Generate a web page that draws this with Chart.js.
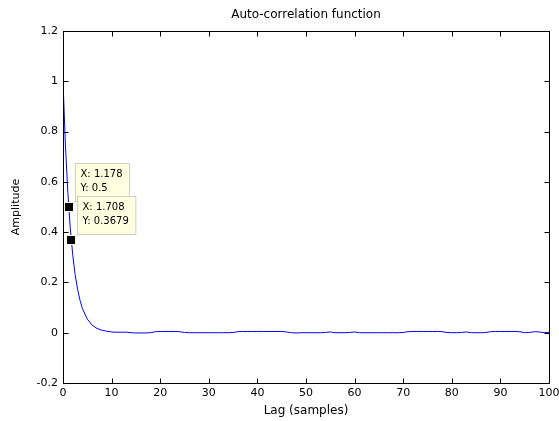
<!DOCTYPE html>
<html lang="en">
<head>
    <meta charset="UTF-8">
    <title>Auto-correlation function</title>
    <style>
        body {
            margin: 0;
            background: #fff;
        }
        #wrap {
            width: 559px;
            height: 421px;
        }
    </style>
    <script src="https://cdn.jsdelivr.net/npm/chart.js"></script>
</head>
<body>
    <div id="wrap">
        <canvas id="acfChart" width="559" height="421"></canvas>
    </div>
    <script>
        // lag values (samples) and auto-correlation
        const lags = [0, 0.5, 1, 1.5, 2, 2.5, 3, 3.5, 4, 5, 6, 7, 8, 9, 10,
            11, 12, 13, 14, 15, 16, 17, 18, 19, 20, 21, 22, 23, 24, 25, 26, 27, 28, 29, 30,
            31, 32, 33, 34, 35, 36, 37, 38, 39, 40, 41, 42, 43, 44, 45, 46, 47, 48, 49, 50,
            51, 52, 53, 54, 55, 56, 57, 58, 59, 60, 61, 62, 63, 64, 65, 66, 67, 68, 69, 70,
            71, 72, 73, 74, 75, 76, 77, 78, 79, 80, 81, 82, 83, 84, 85, 86, 87, 88, 89, 90,
            91, 92, 93, 94, 95, 96, 97, 98, 99, 100];
        const amplitude = [1.000, 0.746, 0.557, 0.416, 0.310, 0.231, 0.173, 0.129, 0.096, 0.054, 0.030, 0.017, 0.010, 0.006, 0.003,
            0.002, 0.002, 0.002, 0.000, -0.001, -0.001, -0.001, 0.000, 0.004, 0.005, 0.005, 0.005, 0.005, 0.004, 0.001, 0.000, 0.000, 0.000, 0.000, 0.000,
            0.000, 0.000, 0.000, 0.000, 0.001, 0.004, 0.005, 0.005, 0.005, 0.005, 0.005, 0.005, 0.005, 0.005, 0.005, 0.003, 0.000, -0.001, 0.000, 0.000,
            0.000, 0.000, 0.000, 0.001, 0.003, 0.000, 0.000, 0.000, 0.001, 0.003, 0.000, 0.000, 0.000, 0.000, 0.000, 0.000, 0.000, 0.000, 0.000, 0.001,
            0.004, 0.005, 0.005, 0.005, 0.005, 0.005, 0.005, 0.004, 0.001, 0.000, 0.000, 0.001, 0.003, 0.000, 0.000, 0.000, 0.001, 0.004, 0.005, 0.005,
            0.005, 0.005, 0.005, 0.004, 0.000, 0.001, 0.004, 0.003, 0.000, 0.002];

        // data tips shown on the curve
        const tipX = [1.178, 1.708];
        const tipY = [0.5, 0.3679];
        const tipLabels = [['X: 1.178', 'Y: 0.5'], ['X: 1.708', 'Y: 0.3679']];

        const axisFont = "'DejaVu Sans', Verdana, sans-serif";
        Chart.defaults.font.family = axisFont;
        Chart.defaults.font.size = 11;
        Chart.defaults.color = '#000';

        // box around the axes with inward tick marks on all four sides
        const framePlugin = {
            id: 'frame',
            afterDatasetsDraw(chart) {
                const ctx = chart.ctx;
                const a = chart.chartArea;
                const xs = chart.scales.x, ys = chart.scales.y;
                const L = Math.round(a.left) + 0.5, R = Math.round(a.right) + 0.5;
                const T = Math.round(a.top) + 0.5, B = Math.round(a.bottom) + 0.5;
                const tl = 5;
                ctx.save();
                ctx.strokeStyle = '#000';
                ctx.lineWidth = 1;
                ctx.beginPath();
                xs.ticks.forEach(t => {
                    const px = Math.round(xs.getPixelForValue(t.value)) + 0.5;
                    ctx.moveTo(px, B); ctx.lineTo(px, B - tl);
                    ctx.moveTo(px, T); ctx.lineTo(px, T + tl);
                });
                ys.ticks.forEach(t => {
                    const py = Math.round(ys.getPixelForValue(t.value)) + 0.5;
                    ctx.moveTo(L, py); ctx.lineTo(L + tl, py);
                    ctx.moveTo(R, py); ctx.lineTo(R - tl, py);
                });
                ctx.stroke();
                ctx.strokeRect(L, T, R - L, B - T);
                ctx.restore();
            }
        };

        // MATLAB-like data tips
        const tipPlugin = {
            id: 'datatips',
            afterDraw(chart) {
                const ctx = chart.ctx;
                const xs = chart.scales.x, ys = chart.scales.y;
                ctx.save();
                ctx.font = '10px ' + axisFont;
                ctx.textBaseline = 'middle';
                ctx.textAlign = 'left';
                for (let i = 0; i < tipX.length; i++) {
                    const mx = xs.getPixelForValue(tipX[i]);
                    const my = ys.getPixelForValue(tipY[i]);
                    const lines = tipLabels[i];
                    const w = Math.max(...lines.map(s => ctx.measureText(s).width)) + 12;
                    const bx = Math.round(mx + 6) + 0.5;
                    const by = Math.round(my - 44) + 0.5;
                    ctx.fillStyle = '#ffffe1';
                    ctx.fillRect(bx, by, w, 38);
                    ctx.strokeStyle = '#d0d0c0';
                    ctx.lineWidth = 1;
                    ctx.strokeRect(bx, by, w, 38);
                    ctx.fillStyle = '#000';
                    ctx.fillText(lines[0], bx + 5, by + 11);
                    ctx.fillText(lines[1], bx + 5, by + 25);
                    // marker
                    ctx.fillStyle = '#ffffe1';
                    ctx.fillRect(Math.round(mx) - 5, Math.round(my) - 5, 10, 10);
                    ctx.fillStyle = '#000';
                    ctx.fillRect(Math.round(mx) - 4, Math.round(my) - 4, 8, 8);
                }
                ctx.restore();
            }
        };

        const points = lags.map((x, i) => ({ x: x, y: amplitude[i] }));

        const ctx = document.getElementById('acfChart').getContext('2d');
        const acfChart = new Chart(ctx, {
            type: 'line',
            data: {
                datasets: [{
                    label: 'ACF',
                    data: points,
                    borderColor: 'rgb(0, 0, 255)',
                    borderWidth: 1,
                    pointRadius: 0,
                    tension: 0,
                    fill: false
                }]
            },
            options: {
                responsive: false,
                animation: false,
                layout: {
                    padding: { top: 0, right: 10, bottom: 0, left: 0 }
                },
                plugins: {
                    legend: { display: false },
                    tooltip: { enabled: false },
                    title: {
                        display: true,
                        fullSize: false,
                        text: 'Auto-correlation function',
                        font: { size: 12, weight: 'normal' },
                        color: '#000',
                        padding: { top: 7.5, bottom: 9.1 }
                    }
                },
                scales: {
                    x: {
                        type: 'linear',
                        min: 0,
                        max: 100,
                        grid: { display: false, drawTicks: false },
                        border: { display: false },
                        ticks: { stepSize: 10, padding: 4, maxRotation: 0 },
                        title: {
                            display: true,
                            text: 'Lag (samples)',
                            font: { size: 12 },
                            padding: { top: 0, bottom: 3 }
                        },
                        afterFit(scale) {
                            scale.height = 38;
                            scale.paddingLeft = 0;
                            scale.paddingRight = 0;
                        }
                    },
                    y: {
                        min: -0.2,
                        max: 1.2,
                        grid: { display: false, drawTicks: false },
                        border: { display: false },
                        ticks: {
                            stepSize: 0.2,
                            padding: 5,
                            callback: v => {
                                const r = Math.round(v * 10) / 10;
                                return r === 0 ? '0' : String(r);
                            }
                        },
                        title: {
                            display: true,
                            text: 'Amplitude',
                            padding: { top: 10, bottom: 4 }
                        },
                        afterFit(scale) {
                            scale.width = 63;
                            scale.paddingTop = 0;
                            scale.paddingBottom = 0;
                        }
                    }
                }
            },
            plugins: [framePlugin, tipPlugin]
        });
    </script>
</body>
</html>
